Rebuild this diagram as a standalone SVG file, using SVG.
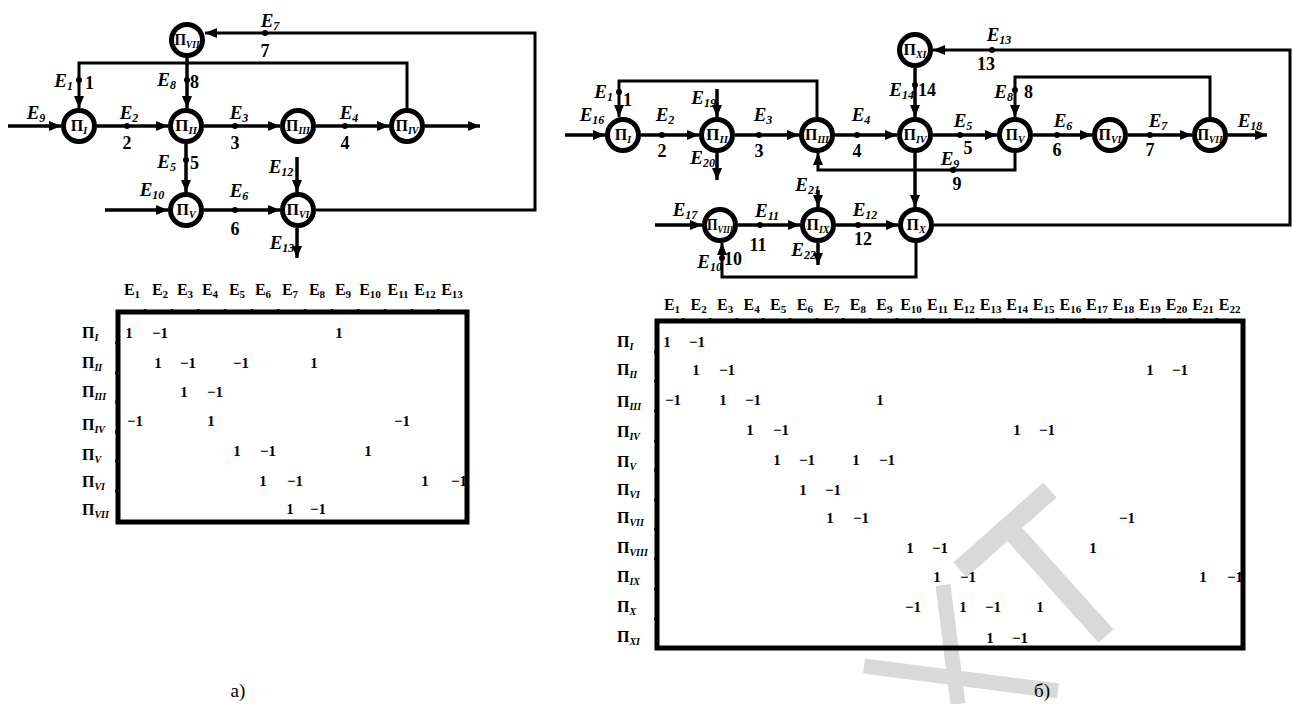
<svg xmlns="http://www.w3.org/2000/svg" width="1292" height="704" viewBox="0 0 1292 704">
<style>
.ln{stroke:#000;stroke-width:3.5;fill:none}
.lp{stroke:#000;stroke-width:3;fill:none}
.nd circle{fill:#fff;stroke:#000;stroke-width:5}
.dt{fill:#000}
text{font-family:"Liberation Serif",serif;font-weight:bold;fill:#000}
.nt{font-size:16px;text-anchor:middle}
.el{font-size:19px;font-style:italic}
.ec{text-anchor:middle}
.er{text-anchor:end}
.num{font-size:18px}
.sub{font-size:10px;font-style:italic}
.esub{font-size:12px}
.hsub{font-size:11px}
.mh{font-size:16px;text-anchor:middle}
.mv{font-size:15px;text-anchor:middle}
.rl{font-size:16px}
.frame{fill:none;stroke:#000;stroke-width:5}
.wm{stroke:#d9d9d9;fill:none;stroke-linecap:butt}
.cap{font-weight:normal;font-size:19px;text-anchor:middle}
</style>
<defs>
<marker id="ah" viewBox="0 0 12 10" refX="12" refY="5" markerWidth="12" markerHeight="10" markerUnits="userSpaceOnUse" orient="auto"><path d="M0,0 L12,5 L0,10 z" fill="#000"/></marker>
</defs>
<rect width="1292" height="704" fill="#fff"/>

<!-- watermark -->
<g id="watermark">
<line class="wm" x1="1050" y1="490" x2="960" y2="570" stroke-width="20"/>
<line class="wm" x1="1008" y1="527" x2="1106" y2="636" stroke-width="20"/>
<line class="wm" x1="943" y1="585" x2="958" y2="704" stroke-width="15"/>
<line class="wm" x1="864" y1="666" x2="1058" y2="691" stroke-width="15"/>
</g>

<!-- ============ LEFT GRAPH (a) ============ -->
<g id="connectors-a">
<line class="ln" x1="8" y1="126" x2="61" y2="126" marker-end="url(#ah)"/>
<line class="ln" x1="97" y1="126" x2="168" y2="126" marker-end="url(#ah)"/>
<line class="ln" x1="204" y1="126" x2="280" y2="126" marker-end="url(#ah)"/>
<line class="ln" x1="316" y1="126" x2="389" y2="126" marker-end="url(#ah)"/>
<line class="ln" x1="425" y1="126" x2="480" y2="126" marker-end="url(#ah)"/>
<path class="lp" d="M316,210 H535 V33 H205" marker-end="url(#ah)"/>
<line class="ln" x1="187" y1="58" x2="187" y2="108" marker-end="url(#ah)"/>
<path class="lp" d="M407,108 V63 H79 V108" marker-end="url(#ah)"/>
<line class="ln" x1="186" y1="144" x2="186" y2="192" marker-end="url(#ah)"/>
<line class="ln" x1="105" y1="210" x2="168" y2="210" marker-end="url(#ah)"/>
<line class="ln" x1="204" y1="210" x2="280" y2="210" marker-end="url(#ah)"/>
<line class="ln" x1="297" y1="157" x2="297" y2="192" marker-end="url(#ah)"/>
<line class="ln" x1="297" y1="228" x2="297" y2="258" marker-end="url(#ah)"/>
<circle class="dt" cx="127" cy="126" r="3"/>
<circle class="dt" cx="235" cy="126" r="3"/>
<circle class="dt" cx="345" cy="126" r="3"/>
<circle class="dt" cx="265" cy="33" r="3"/>
<circle class="dt" cx="187" cy="80" r="3"/>
<circle class="dt" cx="79" cy="80" r="3"/>
<circle class="dt" cx="186" cy="160" r="3"/>
<circle class="dt" cx="235" cy="210" r="3"/>
<text class="el ec" x="36" y="119">E<tspan class="esub" dy="3">9</tspan></text>
<text class="el ec" x="129" y="119">E<tspan class="esub" dy="3">2</tspan></text>
<text class="num ec" x="127" y="149">2</text>
<text class="el ec" x="239" y="119">E<tspan class="esub" dy="3">3</tspan></text>
<text class="num ec" x="235" y="149">3</text>
<text class="el ec" x="349" y="119">E<tspan class="esub" dy="3">4</tspan></text>
<text class="num ec" x="345" y="149">4</text>
<text class="el ec" x="270" y="27">E<tspan class="esub" dy="3">7</tspan></text>
<text class="num ec" x="265" y="57">7</text>
<text class="el er" x="176" y="86">E<tspan class="esub" dy="3">8</tspan></text>
<text class="num" x="190" y="88">8</text>
<text class="el er" x="73" y="87">E<tspan class="esub" dy="3">1</tspan></text>
<text class="num" x="85" y="89">1</text>
<text class="el er" x="176" y="168">E<tspan class="esub" dy="3">5</tspan></text>
<text class="num" x="190" y="169">5</text>
<text class="el ec" x="152" y="196">E<tspan class="esub" dy="3">10</tspan></text>
<text class="el ec" x="239" y="197">E<tspan class="esub" dy="3">6</tspan></text>
<text class="num ec" x="235" y="235">6</text>
<text class="el ec" x="281" y="173">E<tspan class="esub" dy="3">12</tspan></text>
<text class="el ec" x="282" y="249">E<tspan class="esub" dy="3">13</tspan></text>
</g>
<g id="a-nI" class="nd"><circle cx="79" cy="126" r="15.5"/><text class="nt" x="79" y="131">П<tspan class="sub" dy="3">I</tspan></text></g>
<g id="a-nII" class="nd"><circle cx="186" cy="126" r="15.5"/><text class="nt" x="186" y="131" textLength="22" lengthAdjust="spacingAndGlyphs">П<tspan class="sub" dy="3">II</tspan></text></g>
<g id="a-nIII" class="nd"><circle cx="298" cy="126" r="15.5"/><text class="nt" x="298" y="131" textLength="24" lengthAdjust="spacingAndGlyphs">П<tspan class="sub" dy="3">III</tspan></text></g>
<g id="a-nIV" class="nd"><circle cx="407" cy="126" r="15.5"/><text class="nt" x="407" y="131" textLength="23" lengthAdjust="spacingAndGlyphs">П<tspan class="sub" dy="3">IV</tspan></text></g>
<g id="a-nV" class="nd"><circle cx="186" cy="210" r="15.5"/><text class="nt" x="186" y="215">П<tspan class="sub" dy="3">V</tspan></text></g>
<g id="a-nVI" class="nd"><circle cx="298" cy="210" r="15.5"/><text class="nt" x="298" y="215" textLength="23" lengthAdjust="spacingAndGlyphs">П<tspan class="sub" dy="3">VI</tspan></text></g>
<g id="a-nVII" class="nd"><circle cx="187" cy="40" r="15.5"/><text class="nt" x="187" y="45" textLength="25" lengthAdjust="spacingAndGlyphs">П<tspan class="sub" dy="3">VII</tspan></text></g>

<!-- ============ LEFT MATRIX ============ -->
<g id="matrix-a">
<text class="mh" x="132" y="295">E<tspan class="hsub" dy="3">1</tspan></text>
<text class="mh" x="160" y="295">E<tspan class="hsub" dy="3">2</tspan></text>
<text class="mh" x="185" y="295">E<tspan class="hsub" dy="3">3</tspan></text>
<text class="mh" x="210" y="295">E<tspan class="hsub" dy="3">4</tspan></text>
<text class="mh" x="237" y="295">E<tspan class="hsub" dy="3">5</tspan></text>
<text class="mh" x="263" y="295">E<tspan class="hsub" dy="3">6</tspan></text>
<text class="mh" x="290" y="295">E<tspan class="hsub" dy="3">7</tspan></text>
<text class="mh" x="317" y="295">E<tspan class="hsub" dy="3">8</tspan></text>
<text class="mh" x="343" y="295">E<tspan class="hsub" dy="3">9</tspan></text>
<text class="mh" x="370" y="295">E<tspan class="hsub" dy="3">10</tspan></text>
<text class="mh" x="398" y="295">E<tspan class="hsub" dy="3">11</tspan></text>
<text class="mh" x="425" y="295">E<tspan class="hsub" dy="3">12</tspan></text>
<text class="mh" x="452" y="295">E<tspan class="hsub" dy="3">13</tspan></text>
<text class="rl" x="82" y="338">П<tspan class="sub" dy="3">I</tspan></text>
<text class="rl" x="82" y="368">П<tspan class="sub" dy="3">II</tspan></text>
<text class="rl" x="82" y="397">П<tspan class="sub" dy="3">III</tspan></text>
<text class="rl" x="82" y="430">П<tspan class="sub" dy="3">IV</tspan></text>
<text class="rl" x="82" y="460">П<tspan class="sub" dy="3">V</tspan></text>
<text class="rl" x="82" y="487">П<tspan class="sub" dy="3">VI</tspan></text>
<text class="rl" x="82" y="515">П<tspan class="sub" dy="3">VII</tspan></text>
<text class="mv" x="129" y="338">1</text><text class="mv" x="160" y="338">−1</text><text class="mv" x="339" y="338">1</text>
<text class="mv" x="158" y="368">1</text><text class="mv" x="188" y="368">−1</text><text class="mv" x="241" y="368">−1</text><text class="mv" x="314" y="368">1</text>
<text class="mv" x="184" y="397">1</text><text class="mv" x="215" y="397">−1</text>
<text class="mv" x="135" y="426">−1</text><text class="mv" x="211" y="426">1</text><text class="mv" x="402" y="426">−1</text>
<text class="mv" x="237" y="456">1</text><text class="mv" x="268" y="456">−1</text><text class="mv" x="368" y="456">1</text>
<text class="mv" x="263" y="486">1</text><text class="mv" x="295" y="486">−1</text><text class="mv" x="425" y="486">1</text><text class="mv" x="459" y="486">−1</text>
<text class="mv" x="290" y="514">1</text><text class="mv" x="318" y="514">−1</text>
<rect class="frame" x="118" y="312" width="349" height="210"/>
<g fill="#000">
<circle cx="145" cy="311" r="2"/><circle cx="172" cy="311" r="2"/><circle cx="198" cy="311" r="2"/><circle cx="225" cy="311" r="2"/><circle cx="252" cy="311" r="2"/><circle cx="278" cy="311" r="2"/><circle cx="305" cy="311" r="2"/><circle cx="332" cy="311" r="2"/><circle cx="358" cy="311" r="2"/><circle cx="385" cy="311" r="2"/><circle cx="412" cy="311" r="2"/><circle cx="438" cy="311" r="2"/>
<circle cx="117" cy="343" r="2"/><circle cx="117" cy="373" r="2"/><circle cx="117" cy="402" r="2"/><circle cx="117" cy="432" r="2"/><circle cx="117" cy="461" r="2"/><circle cx="117" cy="491" r="2"/>
</g>
</g>

<!-- ============ RIGHT GRAPH (b) ============ -->
<g id="connectors-b">
<line class="ln" x1="565" y1="135" x2="605" y2="135" marker-end="url(#ah)"/>
<line class="ln" x1="641" y1="135" x2="699" y2="135" marker-end="url(#ah)"/>
<line class="ln" x1="735" y1="135" x2="799" y2="135" marker-end="url(#ah)"/>
<line class="ln" x1="835" y1="135" x2="897" y2="135" marker-end="url(#ah)"/>
<line class="ln" x1="933" y1="135" x2="997" y2="135" marker-end="url(#ah)"/>
<line class="ln" x1="1033" y1="135" x2="1092" y2="135" marker-end="url(#ah)"/>
<line class="ln" x1="1128" y1="135" x2="1192" y2="135" marker-end="url(#ah)"/>
<line class="ln" x1="1228" y1="135" x2="1267" y2="135" marker-end="url(#ah)"/>
<path class="lp" d="M817,117 V81 H619 V117" marker-end="url(#ah)"/>
<line class="ln" x1="717" y1="89" x2="717" y2="117" marker-end="url(#ah)"/>
<line class="ln" x1="717" y1="153" x2="717" y2="180" marker-end="url(#ah)"/>
<line class="ln" x1="915" y1="68" x2="915" y2="117" marker-end="url(#ah)"/>
<path class="lp" d="M934,225 H1290 V50 H933" marker-end="url(#ah)"/>
<path class="lp" d="M1210,117 V77 H1015 V117" marker-end="url(#ah)"/>
<path class="lp" d="M1015,153 V170 H818 V153" marker-end="url(#ah)"/>
<line class="ln" x1="915" y1="153" x2="915" y2="207" marker-end="url(#ah)"/>
<line class="ln" x1="655" y1="225" x2="702" y2="225" marker-end="url(#ah)"/>
<line class="ln" x1="738" y1="225" x2="800" y2="225" marker-end="url(#ah)"/>
<line class="ln" x1="836" y1="225" x2="898" y2="225" marker-end="url(#ah)"/>
<line class="ln" x1="818" y1="190" x2="818" y2="207" marker-end="url(#ah)"/>
<line class="ln" x1="818" y1="243" x2="818" y2="265" marker-end="url(#ah)"/>
<path class="lp" d="M916,243 V277 H722 V243" marker-end="url(#ah)"/>
<circle class="dt" cx="662" cy="135" r="3"/>
<circle class="dt" cx="759" cy="135" r="3"/>
<circle class="dt" cx="857" cy="135" r="3"/>
<circle class="dt" cx="960" cy="135" r="3"/>
<circle class="dt" cx="1057" cy="135" r="3"/>
<circle class="dt" cx="1150" cy="135" r="3"/>
<circle class="dt" cx="619" cy="92" r="3"/>
<circle class="dt" cx="915" cy="85" r="3"/>
<circle class="dt" cx="992" cy="50" r="3"/>
<circle class="dt" cx="1015" cy="90" r="3"/>
<circle class="dt" cx="953" cy="170" r="3"/>
<circle class="dt" cx="760" cy="225" r="3"/>
<circle class="dt" cx="858" cy="225" r="3"/>
<circle class="dt" cx="722" cy="258" r="3"/>
<text class="el ec" x="592" y="121">E<tspan class="esub" dy="3">16</tspan></text>
<text class="el ec" x="665" y="121">E<tspan class="esub" dy="3">2</tspan></text>
<text class="num ec" x="662" y="157">2</text>
<text class="el er" x="613" y="98">E<tspan class="esub" dy="3">1</tspan></text>
<text class="num" x="623" y="106">1</text>
<text class="el er" x="716" y="104">E<tspan class="esub" dy="3">19</tspan></text>
<text class="el ec" x="763" y="121">E<tspan class="esub" dy="3">3</tspan></text>
<text class="num ec" x="759" y="157">3</text>
<text class="el ec" x="861" y="121">E<tspan class="esub" dy="3">4</tspan></text>
<text class="num ec" x="857" y="157">4</text>
<text class="el er" x="914" y="96">E<tspan class="esub" dy="3">14</tspan></text>
<text class="num" x="918" y="96">14</text>
<text class="el ec" x="999" y="41">E<tspan class="esub" dy="3">13</tspan></text>
<text class="num ec" x="986" y="70">13</text>
<text class="el ec" x="963" y="127">E<tspan class="esub" dy="3">5</tspan></text>
<text class="num ec" x="968" y="154">5</text>
<text class="el er" x="1013" y="98">E<tspan class="esub" dy="3">8</tspan></text>
<text class="num" x="1024" y="98">8</text>
<text class="el ec" x="1063" y="127">E<tspan class="esub" dy="3">6</tspan></text>
<text class="num ec" x="1057" y="156">6</text>
<text class="el ec" x="1158" y="127">E<tspan class="esub" dy="3">7</tspan></text>
<text class="num ec" x="1150" y="156">7</text>
<text class="el ec" x="1250" y="127">E<tspan class="esub" dy="3">18</tspan></text>
<text class="el er" x="715" y="164">E<tspan class="esub" dy="3">20</tspan></text>
<text class="el ec" x="950" y="165">E<tspan class="esub" dy="3">9</tspan></text>
<text class="num ec" x="957" y="190">9</text>
<text class="el ec" x="685" y="216">E<tspan class="esub" dy="3">17</tspan></text>
<text class="el ec" x="767" y="217">E<tspan class="esub" dy="3">11</tspan></text>
<text class="num ec" x="758" y="251">11</text>
<text class="el er" x="820" y="191">E<tspan class="esub" dy="3">21</tspan></text>
<text class="el er" x="816" y="256">E<tspan class="esub" dy="3">22</tspan></text>
<text class="el ec" x="865" y="216">E<tspan class="esub" dy="3">12</tspan></text>
<text class="num ec" x="863" y="245">12</text>
<text class="el er" x="722" y="268">E<tspan class="esub" dy="3">10</tspan></text>
<text class="num" x="724" y="265">10</text>
</g>
<g id="b-nI" class="nd"><circle cx="623" cy="135" r="15.5"/><text class="nt" x="623" y="140">П<tspan class="sub" dy="3">I</tspan></text></g>
<g id="b-nII" class="nd"><circle cx="717" cy="135" r="15.5"/><text class="nt" x="717" y="140" textLength="22" lengthAdjust="spacingAndGlyphs">П<tspan class="sub" dy="3">II</tspan></text></g>
<g id="b-nIII" class="nd"><circle cx="817" cy="135" r="15.5"/><text class="nt" x="817" y="140" textLength="24" lengthAdjust="spacingAndGlyphs">П<tspan class="sub" dy="3">III</tspan></text></g>
<g id="b-nIV" class="nd"><circle cx="915" cy="135" r="15.5"/><text class="nt" x="915" y="140" textLength="23" lengthAdjust="spacingAndGlyphs">П<tspan class="sub" dy="3">IV</tspan></text></g>
<g id="b-nV" class="nd"><circle cx="1015" cy="135" r="15.5"/><text class="nt" x="1015" y="140">П<tspan class="sub" dy="3">V</tspan></text></g>
<g id="b-nVI" class="nd"><circle cx="1110" cy="135" r="15.5"/><text class="nt" x="1110" y="140" textLength="23" lengthAdjust="spacingAndGlyphs">П<tspan class="sub" dy="3">VI</tspan></text></g>
<g id="b-nVII" class="nd"><circle cx="1210" cy="135" r="15.5"/><text class="nt" x="1210" y="140" textLength="25" lengthAdjust="spacingAndGlyphs">П<tspan class="sub" dy="3">VII</tspan></text></g>
<g id="b-nVIII" class="nd"><circle cx="720" cy="225" r="15.5"/><text class="nt" x="720" y="230" textLength="26" lengthAdjust="spacingAndGlyphs">П<tspan class="sub" dy="3">VIII</tspan></text></g>
<g id="b-nIX" class="nd"><circle cx="818" cy="225" r="15.5"/><text class="nt" x="818" y="230" textLength="23" lengthAdjust="spacingAndGlyphs">П<tspan class="sub" dy="3">IX</tspan></text></g>
<g id="b-nX" class="nd"><circle cx="916" cy="225" r="15.5"/><text class="nt" x="916" y="230">П<tspan class="sub" dy="3">X</tspan></text></g>
<g id="b-nXI" class="nd"><circle cx="915" cy="50" r="15.5"/><text class="nt" x="915" y="55" textLength="23" lengthAdjust="spacingAndGlyphs">П<tspan class="sub" dy="3">XI</tspan></text></g>

<!-- ============ RIGHT MATRIX ============ -->
<g id="matrix-b">
<text class="mh" x="672" y="310">E<tspan class="hsub" dy="3">1</tspan></text>
<text class="mh" x="698.6" y="310">E<tspan class="hsub" dy="3">2</tspan></text>
<text class="mh" x="725.1" y="310">E<tspan class="hsub" dy="3">3</tspan></text>
<text class="mh" x="751.7" y="310">E<tspan class="hsub" dy="3">4</tspan></text>
<text class="mh" x="778.2" y="310">E<tspan class="hsub" dy="3">5</tspan></text>
<text class="mh" x="804.8" y="310">E<tspan class="hsub" dy="3">6</tspan></text>
<text class="mh" x="831.3" y="310">E<tspan class="hsub" dy="3">7</tspan></text>
<text class="mh" x="857.9" y="310">E<tspan class="hsub" dy="3">8</tspan></text>
<text class="mh" x="884.4" y="310">E<tspan class="hsub" dy="3">9</tspan></text>
<text class="mh" x="911" y="310">E<tspan class="hsub" dy="3">10</tspan></text>
<text class="mh" x="937.5" y="310">E<tspan class="hsub" dy="3">11</tspan></text>
<text class="mh" x="964" y="310">E<tspan class="hsub" dy="3">12</tspan></text>
<text class="mh" x="990.6" y="310">E<tspan class="hsub" dy="3">13</tspan></text>
<text class="mh" x="1017.2" y="310">E<tspan class="hsub" dy="3">14</tspan></text>
<text class="mh" x="1043.7" y="310">E<tspan class="hsub" dy="3">15</tspan></text>
<text class="mh" x="1070.3" y="310">E<tspan class="hsub" dy="3">16</tspan></text>
<text class="mh" x="1096.8" y="310">E<tspan class="hsub" dy="3">17</tspan></text>
<text class="mh" x="1123.4" y="310">E<tspan class="hsub" dy="3">18</tspan></text>
<text class="mh" x="1149.9" y="310">E<tspan class="hsub" dy="3">19</tspan></text>
<text class="mh" x="1176.5" y="310">E<tspan class="hsub" dy="3">20</tspan></text>
<text class="mh" x="1203" y="310">E<tspan class="hsub" dy="3">21</tspan></text>
<text class="mh" x="1229.6" y="310">E<tspan class="hsub" dy="3">22</tspan></text>
<text class="rl" x="617" y="347">П<tspan class="sub" dy="3">I</tspan></text>
<text class="rl" x="617" y="375">П<tspan class="sub" dy="3">II</tspan></text>
<text class="rl" x="617" y="407">П<tspan class="sub" dy="3">III</tspan></text>
<text class="rl" x="617" y="437">П<tspan class="sub" dy="3">IV</tspan></text>
<text class="rl" x="617" y="467">П<tspan class="sub" dy="3">V</tspan></text>
<text class="rl" x="617" y="495">П<tspan class="sub" dy="3">VI</tspan></text>
<text class="rl" x="617" y="523">П<tspan class="sub" dy="3">VII</tspan></text>
<text class="rl" x="617" y="553">П<tspan class="sub" dy="3">VIII</tspan></text>
<text class="rl" x="617" y="582">П<tspan class="sub" dy="3">IX</tspan></text>
<text class="rl" x="617" y="612">П<tspan class="sub" dy="3">X</tspan></text>
<text class="rl" x="617" y="642">П<tspan class="sub" dy="3">XI</tspan></text>
<text class="mv" x="667" y="347">1</text><text class="mv" x="697" y="347">−1</text>
<text class="mv" x="696" y="375">1</text><text class="mv" x="727" y="375">−1</text><text class="mv" x="1150" y="375">1</text><text class="mv" x="1180" y="375">−1</text>
<text class="mv" x="673" y="405">−1</text><text class="mv" x="723" y="405">1</text><text class="mv" x="753" y="405">−1</text><text class="mv" x="880" y="405">1</text>
<text class="mv" x="750" y="435">1</text><text class="mv" x="781" y="435">−1</text><text class="mv" x="1017" y="435">1</text><text class="mv" x="1047" y="435">−1</text>
<text class="mv" x="777" y="465">1</text><text class="mv" x="807" y="465">−1</text><text class="mv" x="856" y="465">1</text><text class="mv" x="887" y="465">−1</text>
<text class="mv" x="803" y="495">1</text><text class="mv" x="833" y="495">−1</text>
<text class="mv" x="830" y="523">1</text><text class="mv" x="861" y="523">−1</text><text class="mv" x="1127" y="523">−1</text>
<text class="mv" x="910" y="553">1</text><text class="mv" x="940" y="553">−1</text><text class="mv" x="1093" y="553">1</text>
<text class="mv" x="937" y="582">1</text><text class="mv" x="968" y="582">−1</text><text class="mv" x="1203" y="582">1</text><text class="mv" x="1235" y="582">−1</text>
<text class="mv" x="913" y="612">−1</text><text class="mv" x="963" y="612">1</text><text class="mv" x="993" y="612">−1</text><text class="mv" x="1040" y="612">1</text>
<text class="mv" x="990" y="643">1</text><text class="mv" x="1020" y="643">−1</text>
<rect class="frame" x="657" y="321" width="586" height="327"/>
<g fill="#000">
<circle cx="683" cy="320" r="2"/><circle cx="710" cy="320" r="2"/><circle cx="737" cy="320" r="2"/><circle cx="763" cy="320" r="2"/><circle cx="790" cy="320" r="2"/><circle cx="817" cy="320" r="2"/><circle cx="843" cy="320" r="2"/><circle cx="870" cy="320" r="2"/><circle cx="897" cy="320" r="2"/><circle cx="923" cy="320" r="2"/><circle cx="950" cy="320" r="2"/><circle cx="977" cy="320" r="2"/><circle cx="1004" cy="320" r="2"/><circle cx="1031" cy="320" r="2"/><circle cx="1057" cy="320" r="2"/><circle cx="1084" cy="320" r="2"/><circle cx="1110" cy="320" r="2"/><circle cx="1137" cy="320" r="2"/><circle cx="1164" cy="320" r="2"/><circle cx="1190" cy="320" r="2"/><circle cx="1217" cy="320" r="2"/>
<circle cx="656" cy="352" r="2"/><circle cx="656" cy="381" r="2"/><circle cx="656" cy="411" r="2"/><circle cx="656" cy="441" r="2"/><circle cx="656" cy="470" r="2"/><circle cx="656" cy="500" r="2"/><circle cx="656" cy="529" r="2"/><circle cx="656" cy="559" r="2"/><circle cx="656" cy="589" r="2"/><circle cx="656" cy="619" r="2"/>
</g>
</g>

<text class="cap" x="238" y="697">а)</text>
<text class="cap" x="1042" y="697">б)</text>
</svg>
